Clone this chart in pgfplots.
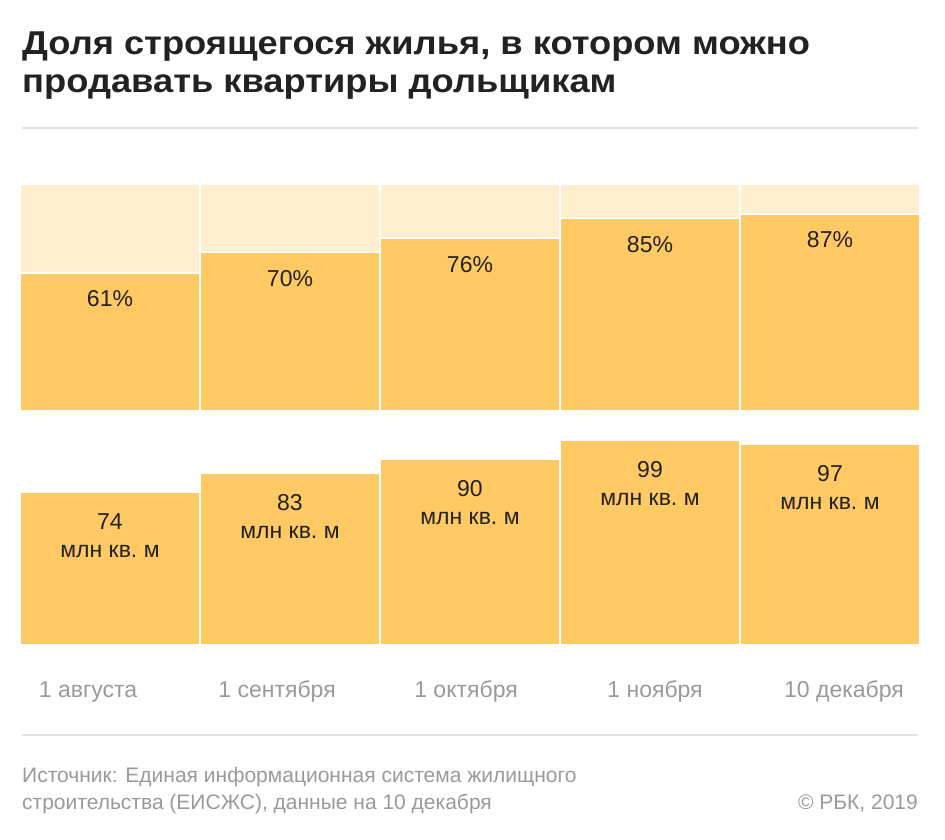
\documentclass[border=0pt]{standalone}
\usepackage{fontspec}
\setmainfont{Liberation Sans}
\newfontfamily\titlefont[FakeStretch=1.1]{Liberation Sans}
\usepackage{pgfplots}
\pgfplotsset{compat=1.18}
\definecolor{darkY}{HTML}{FFCA64}
\definecolor{lightY}{HTML}{FFEFCF}
\definecolor{txt}{HTML}{222222}
\definecolor{greyT}{HTML}{9A9A9A}
\definecolor{rulec}{HTML}{E2E2E2}
\begin{document}
\begin{tikzpicture}[x=1pt,y=1pt]
\path[use as bounding box, fill=white] (0,0) rectangle (945,839);
\node[anchor=base west, inner sep=0, font=\titlefont\fontsize{33}{38}\selectfont\bfseries, text=txt] at (22,784) {Доля строящегося жилья, в котором можно};
\node[anchor=base west, inner sep=0, font=\titlefont\fontsize{33}{38}\selectfont\bfseries, text=txt] at (22,746) {продавать квартиры дольщикам};
\draw[rulec, line width=2pt] (22,711) -- (918,711);
\draw[rulec, line width=2pt] (22,104) -- (918,104);
\node[anchor=base west, inner sep=0, font=\fontsize{21}{27}\selectfont, text=greyT] at (22,57) {Источник: Единая информационная система жилищного};
\node[anchor=base west, inner sep=0, font=\fontsize{21}{27}\selectfont, text=greyT] at (22,30) {строительства (ЕИСЖС), данные на 10 декабря};
\node[anchor=base east, inner sep=0, font=\fontsize{21}{27}\selectfont, text=greyT] at (918,30) {© РБК, 2019};

\begin{axis}[at={(20pt,428pt)}, anchor=south west, scale only axis,
  width=900pt, height=227pt, xmin=0, xmax=5, ymin=0, ymax=100,
  hide axis, clip=false, ybar, bar width=180pt, bar shift=0pt,
  /pgf/number format/assume math mode=true]
\addplot[fill=lightY, draw=white, line width=2pt] coordinates {(0.5,100) (1.5,100) (2.5,100) (3.5,100) (4.5,100)};
\addplot[fill=darkY, draw=white, line width=2pt,
  nodes near coords={\pgfmathprintnumber{\pgfplotspointmeta}\%},
  every node near coord/.append style={anchor=base, yshift=-34pt, inner sep=0pt, font=\fontsize{23}{28}\selectfont, text=txt}]
  coordinates {(0.5,61) (1.5,70) (2.5,76) (3.5,85) (4.5,87)};
\end{axis}

\begin{axis}[at={(20pt,194pt)}, anchor=south west, scale only axis,
  width=900pt, height=207pt, xmin=0, xmax=5, ymin=0, ymax=100,
  clip=false, ybar, bar width=180pt, bar shift=0pt,
  /pgf/number format/assume math mode=true,
  hide y axis, axis x line*=bottom, x axis line style={draw=none},
  xtick style={draw=none}, major tick length=0pt,
  xtick={0.378,1.428,2.478,3.528,4.578},
  xticklabels={1 августа, 1 сентября, 1 октября, 1 ноября, 10 декабря},
  xticklabel style={anchor=base, yshift=-52pt, inner sep=0pt, font=\fontsize{23}{28}\selectfont, text=greyT}]
\addplot[fill=darkY, draw=white, line width=2pt,
  nodes near coords={\pgfmathprintnumber{\pgfplotspointmeta}},
  every node near coord/.append style={anchor=base, yshift=-37.5pt, inner sep=0pt, font=\fontsize{23}{28}\selectfont, text=txt}]
  coordinates {(0.5,74) (1.5,83) (2.5,90) (3.5,99) (4.5,97)};
\addplot[fill=none, draw=none,
  nodes near coords={млн кв.~м},
  every node near coord/.append style={anchor=base, yshift=-65.5pt, inner sep=0pt, font=\fontsize{23}{28}\selectfont, text=txt}]
  coordinates {(0.5,74) (1.5,83) (2.5,90) (3.5,99) (4.5,97)};
\end{axis}
\end{tikzpicture}
\end{document}
